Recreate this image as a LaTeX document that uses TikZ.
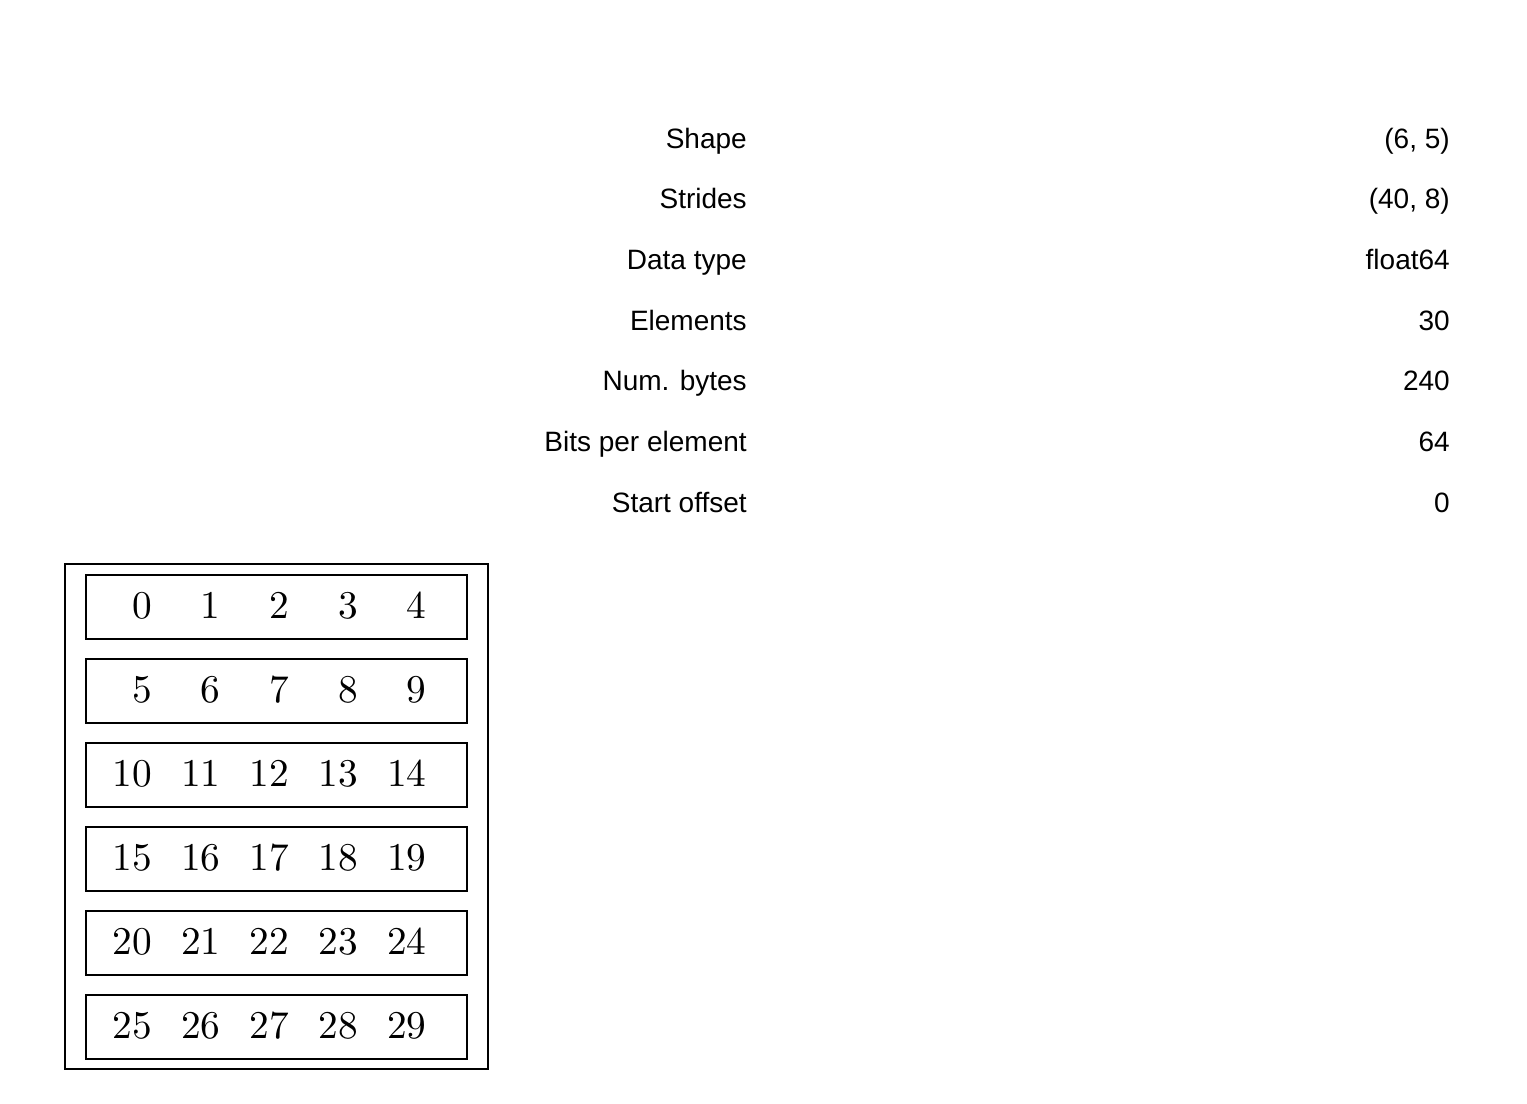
\documentclass[tikz,border=0pt]{standalone}
\usepackage{fontspec}
\setsansfont{Liberation Sans}
\begin{document}
\begin{tikzpicture}[x=0.75pt,y=-0.75pt,
  proplabel/.style={font=\sffamily\fontsize{21}{25}\selectfont,anchor=base east,inner sep=0pt},
  propvalue/.style={font=\sffamily\fontsize{21}{25}\selectfont,anchor=base east,inner sep=0pt},
  cell/.style={font=\fontsize{10}{12}\selectfont,scale=2.95,transform shape,anchor=base east,inner sep=0pt},
  rowbox/.style={draw,line width=1.6pt,minimum width=381*0.75pt,minimum height=64*0.75pt,inner sep=0pt,anchor=north west},
  outerbox/.style={draw,line width=1.6pt,minimum width=423*0.75pt,minimum height=505*0.75pt,inner sep=0pt,anchor=north west}]
\useasboundingbox (0,0) rectangle (1527,1103);
% property table
\foreach \lab/\val [count=\i from 0] in {Shape/{(6, 5)},Strides/{(40, 8)},Data type/float64,Elements/30,Num. bytes/240,Bits per element/64,Start offset/0}{
  \node[proplabel] (lab\i) at (747,148+60.67*\i) {\lab};
  \node[propvalue] (val\i) at (1450,148+60.67*\i) {\val};
}
% array
\node[outerbox] (outer) at (63.5,563) {};
\foreach \r in {0,...,5}{
  \node[rowbox] (row\r) at (84.5,574+84*\r) {};
  \foreach \c in {0,...,4}{
    \pgfmathtruncatemacro{\n}{5*\r+\c}
    \node[cell] (cell\n) at (152.5+68.7*\c,618+84*\r) {\n};
  }
}
\end{tikzpicture}
\end{document}
